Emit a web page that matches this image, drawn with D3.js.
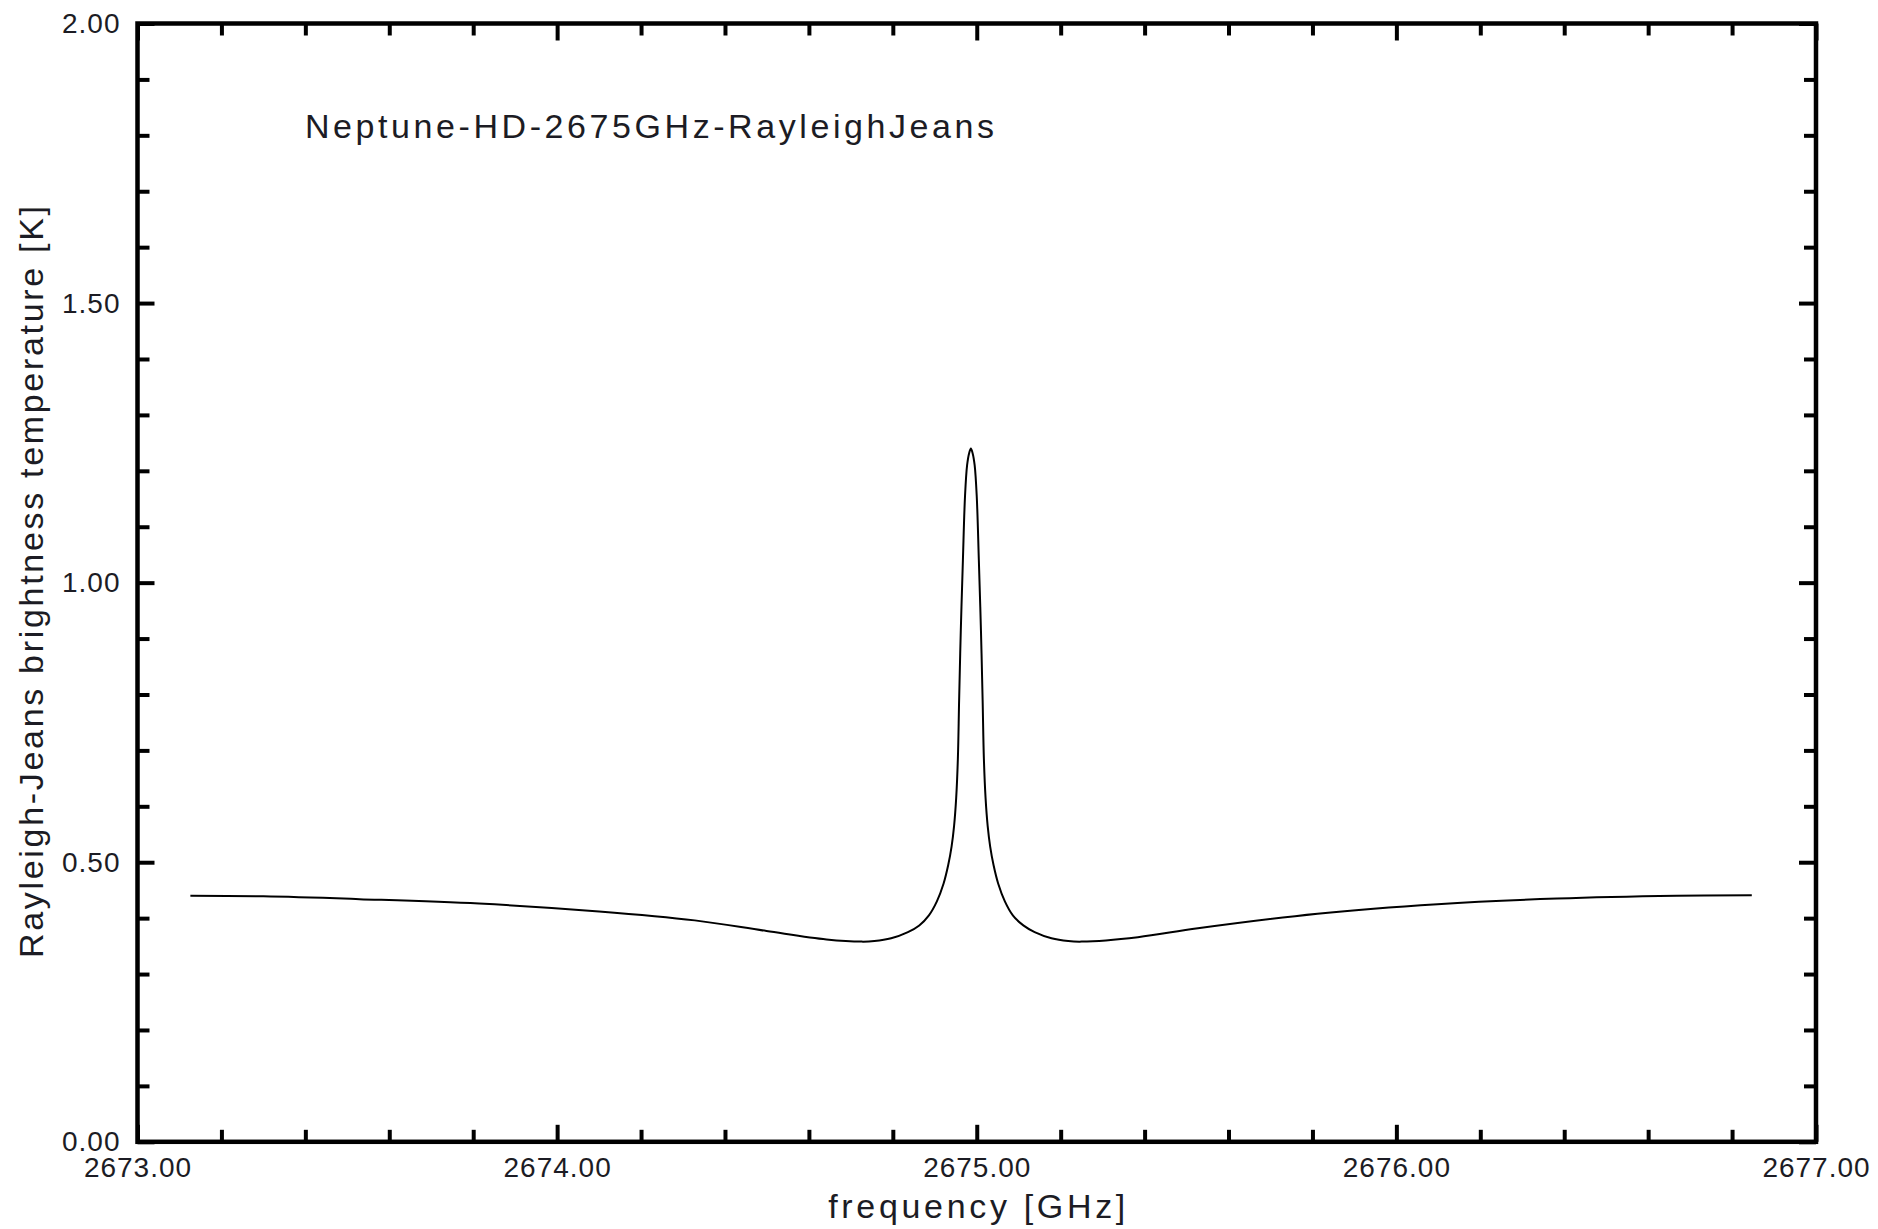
<!DOCTYPE html>
<html>
<head>
<meta charset="utf-8">
<script src="https://cdn.jsdelivr.net/npm/d3@7"></script>
<style>
  html, body { margin: 0; padding: 0; background: #fff; }
  svg { display: block; }
  text { font-family: "Liberation Sans", Arial, sans-serif; fill: #1c1c24; }
</style>
</head>
<body>
<svg id="chart" width="1878" height="1229"></svg>
<script>
// Spectrum: frequency (GHz) and Rayleigh-Jeans brightness temperature (K)
const freq = [
  2673.126, 2673.300, 2673.529, 2673.814, 2674.100, 2674.328, 2674.499, 2674.642,
  2674.726, 2674.756, 2674.796, 2674.836, 2674.863, 2674.886, 2674.905, 2674.921,
  2674.932, 2674.940, 2674.946, 2674.951, 2674.955, 2674.958, 2674.962, 2674.967,
  2674.972, 2674.977, 2674.982, 2674.986, 2674.990, 2674.995, 2675.000, 2675.005,
  2675.010, 2675.014, 2675.017, 2675.021, 2675.026, 2675.032, 2675.040, 2675.051,
  2675.067, 2675.086, 2675.111, 2675.138, 2675.178, 2675.218, 2675.250, 2675.384,
  2675.527, 2675.812, 2676.098, 2676.383, 2676.668, 2676.847
];
const temperature = [
  0.440, 0.439, 0.434, 0.426, 0.412, 0.396, 0.377, 0.362,
  0.358, 0.359, 0.364, 0.375, 0.387, 0.405, 0.430, 0.462,
  0.495, 0.528, 0.565, 0.615, 0.685, 0.790, 0.915, 1.040,
  1.154, 1.210, 1.232, 1.240, 1.232, 1.210, 1.154, 1.040,
  0.915, 0.790, 0.685, 0.615, 0.565, 0.528, 0.495, 0.462,
  0.430, 0.405, 0.387, 0.375, 0.364, 0.359, 0.358, 0.366,
  0.382, 0.408, 0.425, 0.435, 0.440, 0.441
];

// Axis ticks
const xMajorTicks = [2673, 2674, 2675, 2676, 2677];
const xMinorTicks = [2673.2, 2673.4, 2673.6, 2673.8, 2674.2, 2674.4, 2674.6, 2674.8,
                     2675.2, 2675.4, 2675.6, 2675.8, 2676.2, 2676.4, 2676.6, 2676.8];
const xTickLabels = ["2673.00", "2674.00", "2675.00", "2676.00", "2677.00"];
const yMajorTicks = [0, 0.5, 1.0, 1.5, 2.0];
const yMinorTicks = [0.1, 0.2, 0.3, 0.4, 0.6, 0.7, 0.8, 0.9,
                     1.1, 1.2, 1.3, 1.4, 1.6, 1.7, 1.8, 1.9];
const yTickLabels = ["0.00", "0.50", "1.00", "1.50", "2.00"];

const titleText = "Neptune-HD-2675GHz-RayleighJeans";
const xTitle = "frequency [GHz]";
const yTitle = "Rayleigh-Jeans brightness temperature [K]";

const plot = { left: 137.5, right: 1816, top: 23.5, bottom: 1141.8 };
const x = d3.scaleLinear().domain([2673, 2677]).range([plot.left, plot.right]);
const y = d3.scaleLinear().domain([0, 2]).range([plot.bottom, plot.top]);

const svg = d3.select("#chart");
const majorLen = 17, minorLen = 12;

function styleAxis(g, labels) {
  g.select(".domain").remove();
  g.selectAll(".tick line").attr("stroke", "#000").attr("stroke-width", 4);
  if (labels) {
    g.selectAll(".tick text")
      .attr("fill", "#1c1c24")
      .style("font-size", "28px")
      .style("letter-spacing", "1px")
      .style("font-family", "'Liberation Sans', Arial, sans-serif");
  } else {
    g.selectAll(".tick text").remove();
  }
}

const xLabelOf = v => xTickLabels[xMajorTicks.indexOf(v)];
const yLabelOf = v => yTickLabels[yMajorTicks.indexOf(v)];

// Bottom axis
svg.append("g").attr("transform", `translate(0,${plot.bottom})`)
  .call(d3.axisBottom(x).tickValues(xMinorTicks).tickSize(-minorLen).tickSizeOuter(0))
  .call(g => styleAxis(g, false));
svg.append("g").attr("transform", `translate(0,${plot.bottom})`)
  .call(d3.axisBottom(x).tickValues(xMajorTicks).tickSize(-majorLen).tickSizeOuter(0)
        .tickPadding(15).tickFormat(xLabelOf))
  .call(g => styleAxis(g, true));
// Top axis (ticks only)
svg.append("g").attr("transform", `translate(0,${plot.top})`)
  .call(d3.axisTop(x).tickValues(xMinorTicks).tickSize(-minorLen).tickSizeOuter(0))
  .call(g => styleAxis(g, false));
svg.append("g").attr("transform", `translate(0,${plot.top})`)
  .call(d3.axisTop(x).tickValues(xMajorTicks).tickSize(-majorLen).tickSizeOuter(0))
  .call(g => styleAxis(g, false));
// Left axis
svg.append("g").attr("transform", `translate(${plot.left},0)`)
  .call(d3.axisLeft(y).tickValues(yMinorTicks).tickSize(-minorLen).tickSizeOuter(0))
  .call(g => styleAxis(g, false));
svg.append("g").attr("transform", `translate(${plot.left},0)`)
  .call(d3.axisLeft(y).tickValues(yMajorTicks).tickSize(-majorLen).tickSizeOuter(0)
        .tickPadding(17).tickFormat(yLabelOf))
  .call(g => styleAxis(g, true));
// Right axis (ticks only)
svg.append("g").attr("transform", `translate(${plot.right},0)`)
  .call(d3.axisRight(y).tickValues(yMinorTicks).tickSize(-minorLen).tickSizeOuter(0))
  .call(g => styleAxis(g, false));
svg.append("g").attr("transform", `translate(${plot.right},0)`)
  .call(d3.axisRight(y).tickValues(yMajorTicks).tickSize(-majorLen).tickSizeOuter(0))
  .call(g => styleAxis(g, false));

// Frame
svg.append("rect")
  .attr("x", plot.left).attr("y", plot.top)
  .attr("width", plot.right - plot.left).attr("height", plot.bottom - plot.top)
  .attr("fill", "none").attr("stroke", "#000").attr("stroke-width", 4.5);

// Spectrum line
const pts = freq.map((f, i) => [f, temperature[i]]);
const line = d3.line().x(d => x(d[0])).y(d => y(d[1])).curve(d3.curveCatmullRom.alpha(0.5));
svg.append("path").datum(pts)
  .attr("d", line)
  .attr("fill", "none").attr("stroke", "#000").attr("stroke-width", 2)
  .attr("stroke-linejoin", "round");

// Titles
svg.append("text").attr("x", 305).attr("y", 138)
  .style("font-size", "34px").attr("textLength", 689).attr("lengthAdjust", "spacing")
  .text(titleText);
svg.append("text").attr("x", (plot.left + plot.right) / 2).attr("y", 1218)
  .attr("text-anchor", "middle")
  .style("font-size", "34px").attr("textLength", 297).attr("lengthAdjust", "spacing")
  .text(xTitle);
svg.append("text")
  .attr("transform", `translate(43,582) rotate(-90)`)
  .attr("text-anchor", "middle")
  .style("font-size", "34px").attr("textLength", 752).attr("lengthAdjust", "spacing")
  .text(yTitle);
</script>
</body>
</html>
